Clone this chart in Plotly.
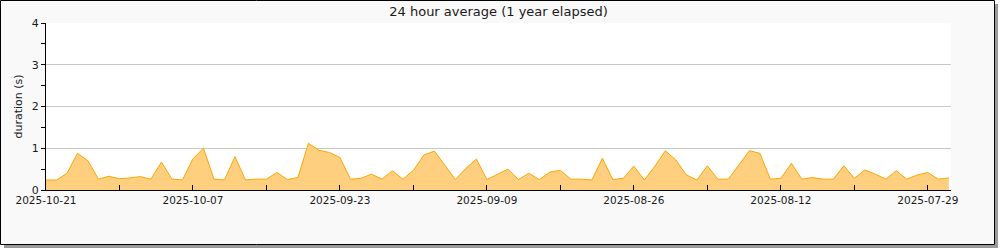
import pandas as pd
import plotly.graph_objects as go

# ---- data ----
start_date = "2025-10-21"          # most recent day (left edge, axis reversed)
durations = [
    0.24, 0.24, 0.40, 0.88, 0.70, 0.26, 0.33, 0.27, 0.29, 0.32,
    0.26, 0.67, 0.26, 0.24, 0.75, 1.00, 0.26, 0.24, 0.80, 0.24,
    0.26, 0.26, 0.42, 0.25, 0.30, 1.12, 0.95, 0.90, 0.78, 0.26,
    0.28, 0.38, 0.26, 0.46, 0.26, 0.47, 0.84, 0.93, 0.59, 0.25,
    0.52, 0.74, 0.25, 0.37, 0.50, 0.25, 0.40, 0.25, 0.43, 0.47,
    0.26, 0.26, 0.24, 0.76, 0.25, 0.28, 0.57, 0.24, 0.57, 0.94,
    0.72, 0.36, 0.24, 0.58, 0.26, 0.26, 0.60, 0.94, 0.88, 0.26,
    0.28, 0.64, 0.26, 0.30, 0.26, 0.26, 0.58, 0.28, 0.48, 0.38,
    0.26, 0.46, 0.26, 0.36, 0.42, 0.26, 0.29,
]
dates = pd.date_range(end=start_date, periods=len(durations), freq="D")[::-1]

title_text = "24 hour average (1 year elapsed)"
y_title = "duration (s)"

# ---- layout geometry (pixels) ----
W_FIG, H_FIG = 1000, 250
ML, MR, MT, MB = 46, 49, 23, 60
PW = W_FIG - ML - MR
PH = H_FIG - MT - MB


def xp(px):
    return (px - ML) / PW


def yp(py):
    return (H_FIG - MB - py) / PH


DAY_MS = 86400000

fig = go.Figure()
fig.add_trace(go.Scatter(
    x=dates, y=durations, mode="lines",
    line=dict(color="#ffa500", width=1),
    fill="tozeroy", fillcolor="#fecf7e",
    hoverinfo="x+y", showlegend=False,
))

shapes = [
    # shadow
    dict(type="rect", xref="paper", yref="paper", layer="below",
         x0=xp(4), x1=xp(998), y0=yp(4), y1=yp(248),
         fillcolor="#9a9a9a", line=dict(width=0)),
    # frame
    dict(type="rect", xref="paper", yref="paper", layer="below",
         x0=xp(0.5), x1=xp(994.5), y0=yp(0.5), y1=yp(244.5),
         fillcolor="#f9f9f9", line=dict(color="black", width=1)),
    # plot area background
    dict(type="rect", xref="paper", yref="paper", layer="below",
         x0=0, x1=1, y0=0, y1=1,
         fillcolor="white", line=dict(width=0)),
]

fig.update_layout(
    width=W_FIG, height=H_FIG,
    margin=dict(l=ML, r=MR, t=MT, b=MB, pad=0),
    paper_bgcolor="white", plot_bgcolor="rgba(0,0,0,0)",
    font=dict(family="DejaVu Sans", size=10.5, color="#1a1a1a"),
    title=dict(text=title_text, x=0.5, xref="paper", xanchor="center",
               y=1 - 11 / H_FIG, yanchor="middle",
               font=dict(family="DejaVu Sans", size=13, color="#1a1a1a")),
    shapes=shapes,
    showlegend=False,
    xaxis=dict(
        type="date",
        range=["2025-10-21", "2025-07-26 19:00"],
        tick0=start_date, dtick=14 * DAY_MS, tickformat="%Y-%m-%d",
        ticks="inside", ticklen=5, tickcolor="black", tickwidth=1,
        showline=True, linecolor="black", linewidth=1,
        showgrid=False, zeroline=False,
        minor=dict(tick0=start_date, dtick=7 * DAY_MS, ticks="inside",
                   ticklen=5, tickcolor="black", showgrid=False),
        tickfont=dict(family="DejaVu Sans", size=10.5, color="#1a1a1a"),
    ),
    yaxis=dict(
        range=[0, 4], dtick=1, tick0=0,
        ticks="outside", ticklen=4, tickcolor="black", tickwidth=1,
        showline=True, linecolor="black", linewidth=1,
        showgrid=True, gridcolor="#c8c8c8", gridwidth=1,
        zeroline=False,
        minor=dict(dtick=0.5, ticks="outside", ticklen=4,
                   tickcolor="black", showgrid=False),
        title=dict(text=y_title, standoff=6,
                   font=dict(family="DejaVu Sans", size=11, color="#1a1a1a")),
        tickfont=dict(family="DejaVu Sans", size=11, color="#1a1a1a"),
    ),
)

fig.write_html("out.html")
